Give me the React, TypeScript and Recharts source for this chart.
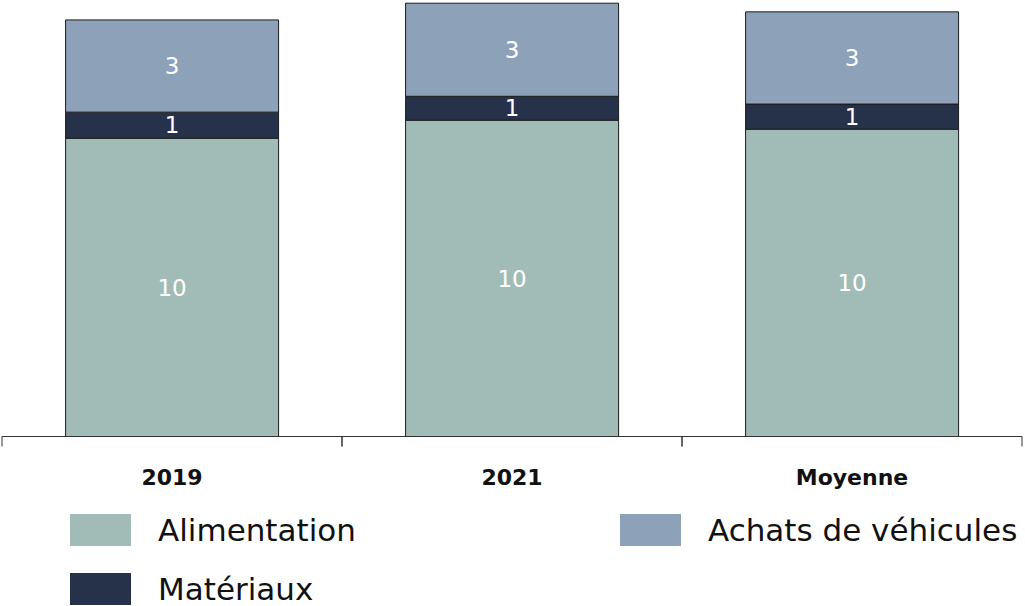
import React from 'react';
import { BarChart, Bar, XAxis, YAxis, LabelList } from 'recharts';

const categories = ['2019', '2021', 'Moyenne'];
const alimentation = [9.61, 10.19, 9.9];
const materiaux = [0.84, 0.77, 0.81];
const achats = [2.97, 3.0, 2.97];

const series = [
  { key: 'alimentation', name: 'Alimentation', color: '#A1BCB6' },
  { key: 'materiaux', name: 'Matériaux', color: '#26324A' },
  { key: 'achats', name: 'Achats de véhicules', color: '#8DA1B9' },
];

const data = categories.map((c, i) => ({
  name: c,
  alimentation: alimentation[i],
  materiaux: materiaux[i],
  achats: achats[i],
}));

const FONT = '"DejaVu Sans", sans-serif';
const CHART_W = 1025;
const MARGIN = { top: 1, right: 3, left: 2, bottom: 0 };

// label at the band centre, tick marks at the band edges
const CategoryTick = (props: any) => {
  const { x, y, payload } = props;
  const half =
    payload && payload.offset ? payload.offset : (CHART_W - MARGIN.left - MARGIN.right) / categories.length / 2;
  return (
    <g>
      <line x1={x - half} x2={x - half} y1={y} y2={y + 10} stroke="#333" strokeWidth={1} />
      <line x1={x + half} x2={x + half} y1={y} y2={y + 10} stroke="#333" strokeWidth={1} />
      <text x={x} y={y} dy={48} textAnchor="middle" fill="#111" fontSize={22} fontWeight={700} fontFamily={FONT}>
        {payload.value}
      </text>
    </g>
  );
};

const legendOrder = [
  [series[0], series[2]],
  [series[1]],
];

export default function App() {
  return (
    <div style={{ position: 'absolute', left: 0, top: 0, width: 1025, height: 606, background: '#fff' }}>
      <BarChart width={CHART_W} height={500} data={data} margin={MARGIN} barCategoryGap="18.7%">
        <XAxis
          dataKey="name"
          interval={0}
          tickSize={0}
          tickMargin={0}
          tickLine={false}
          tick={<CategoryTick />}
          height={63.5}
          axisLine={{ stroke: '#333', strokeWidth: 1 }}
        />
        <YAxis hide domain={[0, 14.03]} />
        {series.map((s) => (
          <Bar
            key={s.key}
            dataKey={s.key}
            stackId="a"
            fill={s.color}
            stroke="#1c1c1c"
            strokeWidth={1}
            isAnimationActive={false}
          >
            <LabelList
              dataKey={s.key}
              position="center"
              fill="#fff"
              fontSize={23}
              fontFamily={FONT}
              formatter={(v: any) => Math.round(Number(v))}
            />
          </Bar>
        ))}
      </BarChart>
      <div style={{ position: 'absolute', left: 0, top: 514, width: 1025, fontFamily: FONT }}>
        {legendOrder.map((row, r) => (
          <div key={r} style={{ position: 'relative', height: 59 }}>
            {row.map((s, c) => (
              <div
                key={s.key}
                style={{ position: 'absolute', left: c === 0 ? 70 : 620, top: 0, display: 'flex', alignItems: 'center', height: 32 }}
              >
                <div style={{ width: 61, height: 32, background: s.color }} />
                <span style={{ marginLeft: 27, fontSize: 31, color: '#111', whiteSpace: 'nowrap' }}>{s.name}</span>
              </div>
            ))}
          </div>
        ))}
      </div>
    </div>
  );
}
